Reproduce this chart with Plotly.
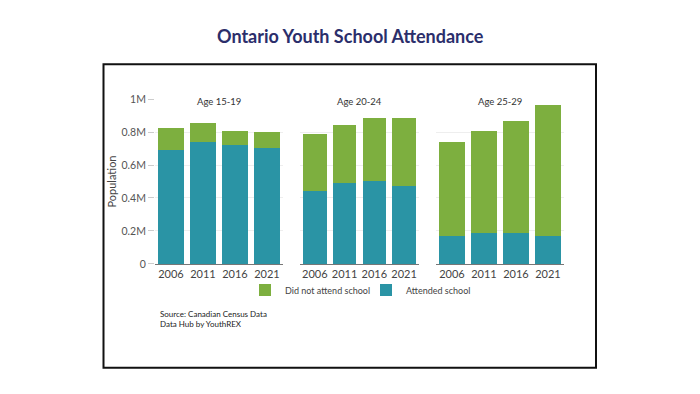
import plotly.graph_objects as go

years = ["2006", "2011", "2016", "2021"]
age_groups = ["Age 15-19", "Age 20-24", "Age 25-29"]

# Attended school, by age group (population)
attended = [
    [688000, 741000, 720000, 702000],
    [445000, 488000, 502000, 472000],
    [169000, 186000, 188000, 172000],
]
# Total population, by age group
total = [
    [825000, 857000, 806000, 798000],
    [790000, 843000, 886000, 886000],
    [737000, 808000, 869000, 966000],
]
not_attended = [[t - a for t, a in zip(tr, ar)] for tr, ar in zip(total, attended)]

y_tickvals = [0, 200000, 400000, 600000, 800000, 1000000]
y_ticktext = ["0", "0.2M", "0.4M", "0.6M", "0.8M", "1M"]

GREEN = "#7DAF3F"
TEAL = "#2A94A5"
FONT = "Lato, 'Open Sans', sans-serif"

W, H = 700, 394
x_domains_px = [(155, 283), (300, 419), (436, 564)]
y_bottom_px, y_top_px = 266, 96

fig = go.Figure()
for i in range(3):
    suffix = "" if i == 0 else str(i + 1)
    fig.add_trace(go.Bar(
        x=years, y=attended[i], name="Attended school",
        marker=dict(color=TEAL, line=dict(width=0)),
        xaxis="x" + suffix, yaxis="y" + suffix,
        showlegend=(i == 0), legendgroup="att", legendrank=2,
    ))
    fig.add_trace(go.Bar(
        x=years, y=not_attended[i], name="Did not attend school",
        marker=dict(color=GREEN, line=dict(width=0)),
        xaxis="x" + suffix, yaxis="y" + suffix,
        showlegend=(i == 0), legendgroup="not", legendrank=1,
    ))

layout = dict(
    width=W, height=H,
    margin=dict(l=0, r=0, t=0, b=0),
    paper_bgcolor="white", plot_bgcolor="white",
    barmode="stack", bargap=0.21,
    font=dict(family=FONT, color="#444444"),
    showlegend=True,
    legend=dict(
        orientation="h", x=245 / W, y=(H - 293) / H, xanchor="left", yanchor="middle",
        font=dict(size=9, color="#444444"), traceorder="normal",
        itemwidth=30, entrywidth=76, entrywidthmode="pixels",
        bgcolor="rgba(0,0,0,0)",
    ),
)

y0 = (H - y_bottom_px) / H
y1 = (H - y_top_px) / H
for i, (a, b) in enumerate(x_domains_px):
    suffix = "" if i == 0 else str(i + 1)
    layout["xaxis" + suffix] = dict(
        domain=[a / W, b / W], anchor="y" + suffix,
        type="category", showgrid=False, showline=True, linecolor="#777777", linewidth=1,
        ticks="", tickfont=dict(size=11, color="#444444"), fixedrange=True,
    )
    ya = dict(
        domain=[y0, y1], anchor="x" + suffix, range=[0, 1000000],
        showgrid=True, gridcolor="#EEEEEE", gridwidth=1, zeroline=False,
        showline=False, fixedrange=True,
        tickvals=y_tickvals, ticktext=y_ticktext,
    )
    if i == 0:
        ya.update(ticks="outside", ticklen=6, tickcolor="#CCCCCC",
                  tickfont=dict(size=10.5, color="#555555"),
                  title=dict(text="Population", font=dict(size=11, color="#444444"), standoff=2))
    else:
        ya.update(showticklabels=False, ticks="")
    layout["yaxis" + suffix] = ya

fig.update_layout(**layout)

annotations = []
for i, (a, b) in enumerate(x_domains_px):
    annotations.append(dict(
        text=age_groups[i], x=(a + b) / 2 / W, y=(H - 99) / H,
        xref="paper", yref="paper", xanchor="center", yanchor="middle",
        showarrow=False, font=dict(size=9.5, color="#333333", family=FONT),
    ))
annotations.append(dict(
    text="<b>Ontario Youth School Attendance</b>", x=0.5, y=(H - 31) / H,
    xref="paper", yref="paper", xanchor="center", yanchor="middle", showarrow=False,
    font=dict(size=18, color="#2B2E6B", family=FONT),
))
annotations.append(dict(
    text="Source: Canadian Census Data<br>Data Hub by YouthREX", x=158 / W, y=(H - 323) / H,
    xref="paper", yref="paper", xanchor="left", yanchor="middle", align="left",
    showarrow=False, font=dict(size=8, color="#222222", family=FONT),
))
fig.update_layout(annotations=annotations)

fig.add_shape(
    type="rect", xref="paper", yref="paper",
    x0=103.5 / W, x1=596 / W, y0=(H - 373) / H, y1=(H - 60) / H,
    line=dict(color="#111111", width=2), fillcolor="rgba(0,0,0,0)", layer="above",
)

fig.write_html(
    "out.html",
    post_script="document.body.style.margin='0';document.body.style.padding='0';document.body.style.overflow='hidden';",
    config={"displayModeBar": False},
)
